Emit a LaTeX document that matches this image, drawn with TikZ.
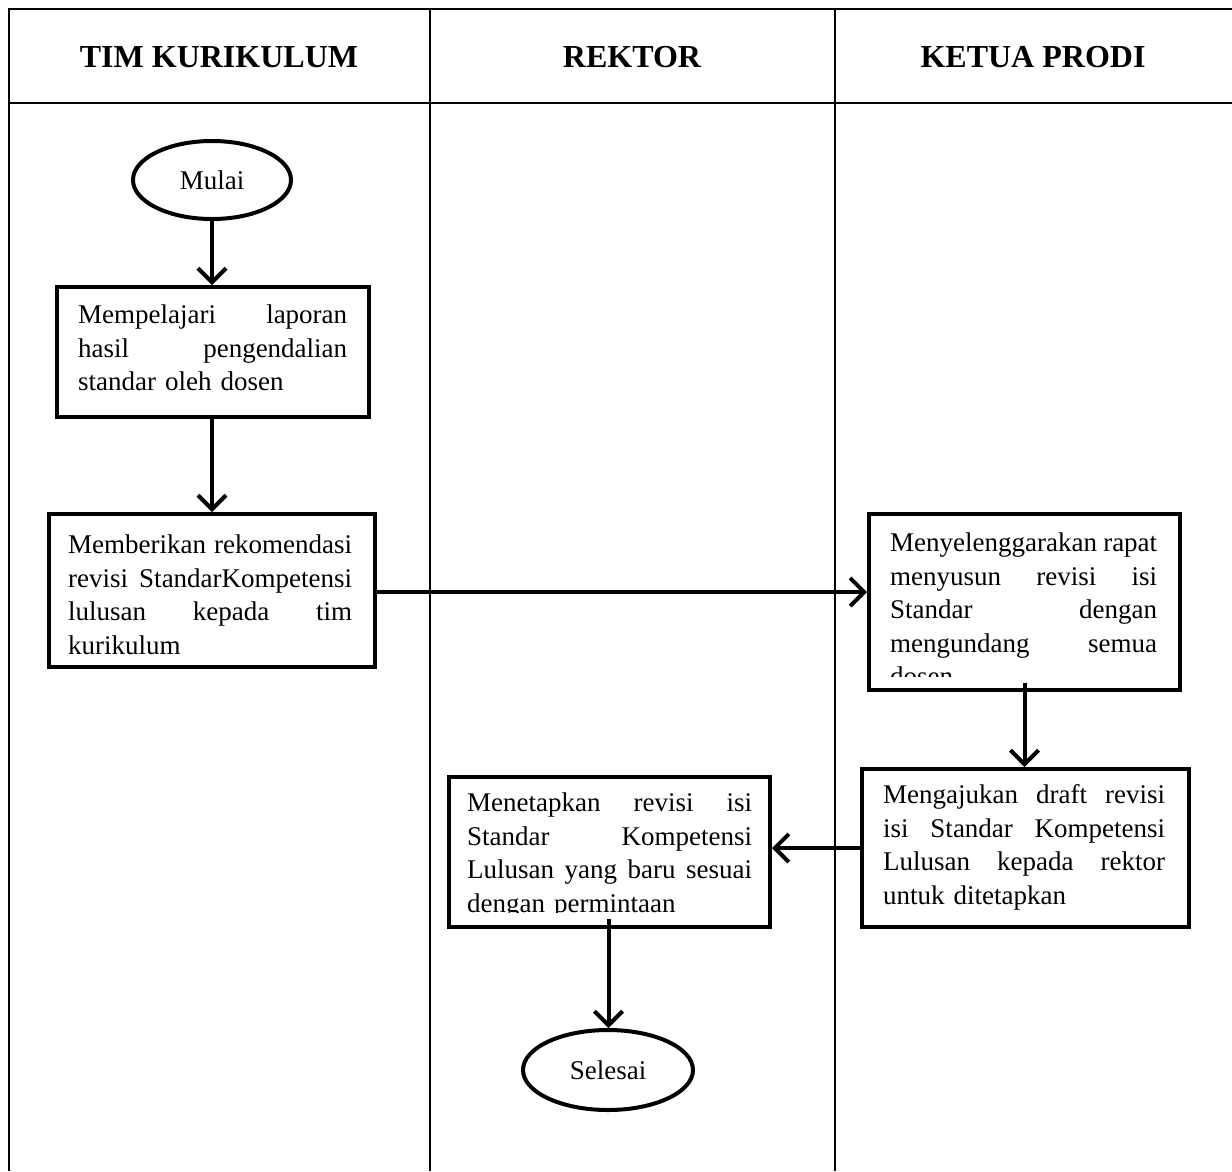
\documentclass[tikz,border=0pt]{standalone}
\usepackage{fontspec}
\setmainfont{Liberation Serif}
\usetikzlibrary{shapes.geometric,arrows.meta}
\begin{document}
\begin{tikzpicture}[x=1pt,y=-1pt,
  grid/.style={line width=2pt},
  hdr/.style={font=\fontsize{32}{38}\selectfont\bfseries, inner sep=0pt},
  procbox/.style={draw, line width=4pt, rectangle, inner sep=0pt, anchor=north west},
  term/.style={draw, line width=4pt, ellipse, inner sep=0pt, font=\fontsize{27}{33.5}\selectfont},
  boxtext/.style={anchor=north west, inner sep=0pt, align=left, font=\fontsize{27}{33.5}\selectfont},
  flow/.style={line width=4pt, -{Straight Barb[length=14pt,width=28pt,line width=4pt]}}
]
\useasboundingbox (0,0) rectangle (1232,1171);
% table
\draw[grid] (9,1171) -- (9,9) -- (1232,9);
\draw[grid] (9,103) -- (1232,103);
\draw[grid] (430,9) -- (430,1171);
\draw[grid] (835,9) -- (835,1171);
\node[hdr] (h1) at (219,57) {TIM KURIKULUM};
\node[hdr] (h2) at (632,57) {REKTOR};
\node[hdr] (h3) at (1033,57) {KETUA PRODI};

% terminals
\node[term, minimum width=158pt, minimum height=78pt] (mulai) at (212,180) {Mulai};
\node[term, minimum width=170pt, minimum height=80pt] (selesai) at (608,1070) {Selesai};

% boxes
\node[procbox, minimum width=312pt, minimum height=130pt] (b1) at (55,285) {};
\node[boxtext, text width=269pt] (t1) at (78,300) {\strut Mempelajari\hfill laporan\\ hasil\hfill pengendalian\\ standar oleh dosen};

\node[procbox, minimum width=326pt, minimum height=153pt] (b2) at (47,512) {};
\node[boxtext, text width=284pt] (t2) at (68,530) {\strut Memberikan\hfill rekomendasi\\ revisi\hfill StandarKompetensi\\ lulusan\hfill kepada\hfill tim\\ kurikulum};

\node[procbox, minimum width=311pt, minimum height=176pt] (b3) at (867,512) {};
\begin{scope}
\clip (867,512) rectangle (1178,676);
\node[boxtext, text width=267pt] (t3) at (890,528) {\strut Menyelenggarakan\hfill rapat\\ menyusun\hfill revisi\hfill isi\\ Standar\hfill dengan\\ mengundang\hfill semua\\ dosen};
\end{scope}

\node[procbox, minimum width=327pt, minimum height=158pt] (b4) at (860,767) {};
\node[boxtext, text width=282pt] (t4) at (883,780) {\strut Mengajukan\hfill draft\hfill revisi\\ isi\hfill Standar\hfill Kompetensi\\ Lulusan\hfill kepada\hfill rektor\\ untuk ditetapkan};

\node[procbox, minimum width=321pt, minimum height=150pt] (b5) at (447,775) {};
\begin{scope}
\clip (447,775) rectangle (768,912);
\node[boxtext, text width=285pt] (t5) at (467,788) {\strut Menetapkan\hfill revisi\hfill isi\\ Standar\hfill Kompetensi\\ Lulusan\hfill yang\hfill baru\hfill sesuai\\ dengan permintaan};
\end{scope}

% connectors
\coordinate (s3) at ([yshift=9pt]b3.south);
\coordinate (s5) at ([yshift=10pt,xshift=-1pt]b5.south);
\draw[flow] (mulai.south) -- (mulai.south |- b1.north);
\draw[flow] (b1.south -| mulai) -- (b2.north -| mulai);
\draw[flow] (b2.east |- 0,592) -- (b3.west |- 0,592);
\draw[flow] (s3) -- (s3 |- b4.north);
\draw[flow] (b4.west |- 0,848) -- (b5.east |- 0,848);
\draw[flow] (s5) -- (s5 |- selesai.north);
\end{tikzpicture}
\end{document}
